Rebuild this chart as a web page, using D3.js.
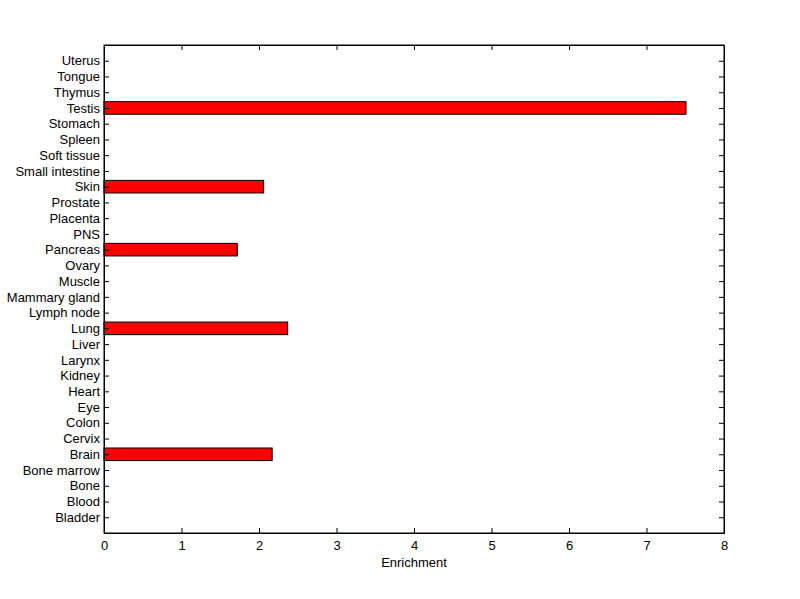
<!DOCTYPE html>
<html>
<head>
<meta charset="utf-8">
<script src="https://cdn.jsdelivr.net/npm/d3@7"></script>
<style>
  body { margin: 0; background: #fff; }
  text { font-family: "Liberation Sans", Arial, sans-serif; font-size: 13px; fill: #000; }
</style>
</head>
<body>
<script>
// tissue names, bottom to top
var tissues = ["Bladder", "Blood", "Bone", "Bone marrow", "Brain", "Cervix", "Colon", "Eye",
  "Heart", "Kidney", "Larynx", "Liver", "Lung", "Lymph node", "Mammary gland", "Muscle",
  "Ovary", "Pancreas", "PNS", "Placenta", "Prostate", "Skin", "Small intestine",
  "Soft tissue", "Spleen", "Stomach", "Testis", "Thymus", "Tongue", "Uterus"];

var enrichment = [0, 0, 0, 0, 2.17, 0, 0, 0,
  0, 0, 0, 0, 2.37, 0, 0, 0,
  0, 1.72, 0, 0, 0, 2.06, 0,
  0, 0, 0, 7.51, 0, 0, 0];

var xTicks = [0, 1, 2, 3, 4, 5, 6, 7, 8];

var svgWidth = 800;
var svgHeight = 599;

var margin = { top: 45, right: 76, bottom: 66, left: 104 };
var chartWidth = svgWidth - margin.left - margin.right;
var chartHeight = svgHeight - margin.top - margin.bottom;

var svg = d3.select("body")
  .append("svg")
  .attr("width", svgWidth)
  .attr("height", svgHeight);

var chartGroup = svg.append("g")
  .attr("transform", `translate(${margin.left}, ${margin.top})`);

var data = tissues.map((t, i) => ({ tissue: t, pos: i + 1, value: enrichment[i] }));

// positions 1..30 inside a 0..31 range, like matlab barh
var yScale = d3.scaleLinear()
  .domain([0, tissues.length + 1])
  .range([chartHeight, 0]);

var xScale = d3.scaleLinear()
  .domain([0, 8])
  .range([0, chartWidth]);

var barH = (yScale(0) - yScale(1)) * 0.8;

// bars
chartGroup.selectAll(".bar")
  .data(data.filter(d => d.value > 0))
  .enter()
  .append("rect")
  .attr("class", "bar")
  .attr("x", xScale(0))
  .attr("y", d => yScale(d.pos) - barH / 2)
  .attr("width", d => xScale(d.value) - xScale(0))
  .attr("height", barH)
  .attr("fill", "#ff0000")
  .attr("stroke", "#000")
  .attr("stroke-width", 1);

// axes with inward ticks
var bottomAxis = d3.axisBottom(xScale).tickValues(xTicks).tickSizeInner(-5).tickSizeOuter(0).tickPadding(8);
var topAxis = d3.axisTop(xScale).tickValues(xTicks).tickSizeInner(-5).tickSizeOuter(0).tickFormat("");
var leftAxis = d3.axisLeft(yScale).tickValues(data.map(d => d.pos))
  .tickFormat((d, i) => tissues[i]).tickSizeInner(-5).tickSizeOuter(0).tickPadding(4);
var rightAxis = d3.axisRight(yScale).tickValues(data.map(d => d.pos))
  .tickSizeInner(-5).tickSizeOuter(0).tickFormat("");

chartGroup.append("g")
  .attr("transform", `translate(0, ${chartHeight})`)
  .call(bottomAxis);
chartGroup.append("g").call(topAxis);
chartGroup.append("g").call(leftAxis);
chartGroup.append("g")
  .attr("transform", `translate(${chartWidth}, 0)`)
  .call(rightAxis);

chartGroup.selectAll(".domain").attr("stroke", "#000");
chartGroup.selectAll(".tick line").attr("stroke", "#000");
chartGroup.selectAll(".tick text")
  .style("font-family", '"Liberation Sans", Arial, sans-serif')
  .style("font-size", "13px")
  .attr("fill", "#000");

// box
chartGroup.append("rect")
  .attr("width", chartWidth)
  .attr("height", chartHeight)
  .attr("fill", "none")
  .attr("stroke", "#000");

// axis label
chartGroup.append("text")
  .attr("x", chartWidth / 2)
  .attr("y", chartHeight + 34)
  .attr("text-anchor", "middle")
  .text("Enrichment");
</script>
</body>
</html>
